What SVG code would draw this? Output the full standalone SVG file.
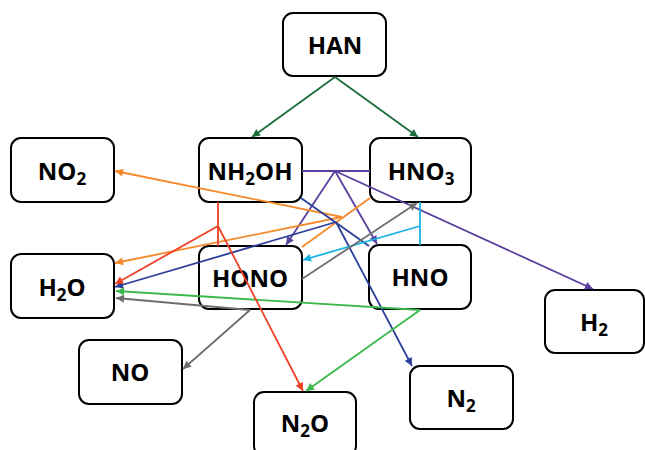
<svg xmlns="http://www.w3.org/2000/svg" width="645" height="450" viewBox="0 0 645 450">
  <style>
    .box { fill: #ffffff; stroke: #000000; stroke-width: 2; }
    .lbl { font-family: "Open Sans", "Liberation Sans", sans-serif; font-weight: 700; font-size: 24px; fill: #000000; text-anchor: middle; }
    .sub { font-size: 17px; }
    .ln { fill: none; stroke-width: 1.8; stroke-linecap: butt; }
    .dkgreen { stroke: #1b6e3c; }
    .purple { stroke: #5b3f9e; }
    .orange { stroke: #f58a2c; }
    .blue { stroke: #2c3f9b; }
    .cyan { stroke: #18b2e3; }
    .gray { stroke: #6e6e6e; }
    .green { stroke: #3db84c; }
    .red { stroke: #ee4125; }
  </style>
  <defs>
    <marker id="ah-dkgreen" viewBox="0 0 10 10" refX="10" refY="5" markerWidth="9" markerHeight="8" markerUnits="userSpaceOnUse" orient="auto"><path d="M0,0 L10,5 L0,10 z" fill="#1b6e3c"/></marker>
    <marker id="ah-purple" viewBox="0 0 10 10" refX="10" refY="5" markerWidth="9" markerHeight="8" markerUnits="userSpaceOnUse" orient="auto"><path d="M0,0 L10,5 L0,10 z" fill="#5b3f9e"/></marker>
    <marker id="ah-orange" viewBox="0 0 10 10" refX="10" refY="5" markerWidth="9" markerHeight="8" markerUnits="userSpaceOnUse" orient="auto"><path d="M0,0 L10,5 L0,10 z" fill="#f58a2c"/></marker>
    <marker id="ah-blue" viewBox="0 0 10 10" refX="10" refY="5" markerWidth="9" markerHeight="8" markerUnits="userSpaceOnUse" orient="auto"><path d="M0,0 L10,5 L0,10 z" fill="#2c3f9b"/></marker>
    <marker id="ah-cyan" viewBox="0 0 10 10" refX="10" refY="5" markerWidth="9" markerHeight="8" markerUnits="userSpaceOnUse" orient="auto"><path d="M0,0 L10,5 L0,10 z" fill="#18b2e3"/></marker>
    <marker id="ah-gray" viewBox="0 0 10 10" refX="10" refY="5" markerWidth="9" markerHeight="8" markerUnits="userSpaceOnUse" orient="auto"><path d="M0,0 L10,5 L0,10 z" fill="#6e6e6e"/></marker>
    <marker id="ah-green" viewBox="0 0 10 10" refX="10" refY="5" markerWidth="9" markerHeight="8" markerUnits="userSpaceOnUse" orient="auto"><path d="M0,0 L10,5 L0,10 z" fill="#3db84c"/></marker>
    <marker id="ah-red" viewBox="0 0 10 10" refX="10" refY="5" markerWidth="9" markerHeight="8" markerUnits="userSpaceOnUse" orient="auto"><path d="M0,0 L10,5 L0,10 z" fill="#ee4125"/></marker>
  </defs>

  <rect width="645" height="450" fill="#ffffff"/>

  <!-- species nodes -->
  <g id="node-HAN">
    <rect class="box" x="283" y="13" width="103" height="63" rx="10"/>
    <text class="lbl" x="335" y="54">HAN</text>
  </g>
  <g id="node-NO2">
    <rect class="box" x="11" y="138" width="103" height="64" rx="10"/>
    <text class="lbl" x="62" y="180">NO<tspan class="sub" dy="5">2</tspan></text>
  </g>
  <g id="node-NH2OH">
    <rect class="box" x="199" y="138" width="103" height="64" rx="10"/>
    <text class="lbl" x="250" y="180">NH<tspan class="sub" dy="5">2</tspan><tspan dy="-5">OH</tspan></text>
  </g>
  <g id="node-HNO3">
    <rect class="box" x="370" y="138" width="101" height="64" rx="10"/>
    <text class="lbl" x="421" y="180">HNO<tspan class="sub" dy="5">3</tspan></text>
  </g>
  <g id="node-H2O">
    <rect class="box" x="11" y="254" width="103" height="64" rx="10"/>
    <text class="lbl" x="62" y="296">H<tspan class="sub" dy="5">2</tspan><tspan dy="-5">O</tspan></text>
  </g>
  <g id="node-HONO">
    <rect class="box" x="199" y="246" width="103" height="63" rx="10"/>
    <text class="lbl" x="250" y="287">HONO</text>
  </g>
  <g id="node-HNO">
    <rect class="box" x="369" y="245" width="102" height="64" rx="10"/>
    <text class="lbl" x="420" y="286">HNO</text>
  </g>
  <g id="node-H2">
    <rect class="box" x="545" y="290" width="99" height="63" rx="10"/>
    <text class="lbl" x="594" y="331">H<tspan class="sub" dy="5">2</tspan></text>
  </g>
  <g id="node-NO">
    <rect class="box" x="79" y="340" width="103" height="64" rx="10"/>
    <text class="lbl" x="130" y="381">NO</text>
  </g>
  <g id="node-N2">
    <rect class="box" x="410" y="366" width="103" height="63" rx="10"/>
    <text class="lbl" x="461" y="407">N<tspan class="sub" dy="5">2</tspan></text>
  </g>
  <g id="node-N2O">
    <rect class="box" x="254" y="392" width="102" height="64" rx="10"/>
    <text class="lbl" x="305" y="432">N<tspan class="sub" dy="5">2</tspan><tspan dy="-5">O</tspan></text>
  </g>

  <!-- reaction connectors -->
  <g id="connectors">
    <!-- HAN decomposition -->
    <line class="ln dkgreen" x1="335" y1="77" x2="252" y2="137" marker-end="url(#ah-dkgreen)"/>
    <line class="ln dkgreen" x1="335" y1="77" x2="418" y2="137" marker-end="url(#ah-dkgreen)"/>

    <!-- NH2OH + HNO3 -->
    <line class="ln purple" x1="302" y1="171" x2="370" y2="171"/>
    <line class="ln purple" x1="335" y1="171" x2="286" y2="245" marker-end="url(#ah-purple)"/>
    <line class="ln purple" x1="335" y1="171" x2="377" y2="244" marker-end="url(#ah-purple)"/>
    <line class="ln purple" x1="335" y1="171" x2="593" y2="289" marker-end="url(#ah-purple)"/>

    <!-- HNO3 + HONO -->
    <line class="ln orange" x1="302" y1="247" x2="370" y2="198"/>
    <line class="ln orange" x1="342" y1="217" x2="115" y2="171" marker-end="url(#ah-orange)"/>
    <line class="ln orange" x1="342" y1="217" x2="115" y2="263" marker-end="url(#ah-orange)"/>

    <!-- NH2OH + HNO -->
    <line class="ln blue" x1="301" y1="198" x2="369" y2="246"/>
    <line class="ln blue" x1="336" y1="222" x2="115" y2="287" marker-end="url(#ah-blue)"/>
    <line class="ln blue" x1="336" y1="222" x2="412" y2="366" marker-end="url(#ah-blue)"/>

    <!-- HNO3 + HNO -->
    <line class="ln cyan" x1="420" y1="202" x2="420" y2="245"/>
    <line class="ln cyan" x1="420" y1="226" x2="303" y2="260" marker-end="url(#ah-cyan)"/>

    <!-- HONO disproportionation -->
    <line class="ln gray" x1="302" y1="279" x2="417" y2="203" marker-end="url(#ah-gray)"/>
    <line class="ln gray" x1="250" y1="310" x2="183" y2="369" marker-end="url(#ah-gray)"/>
    <line class="ln gray" x1="250" y1="310" x2="116" y2="298" marker-end="url(#ah-gray)"/>

    <!-- HNO dimerisation -->
    <line class="ln green" x1="420" y1="310" x2="116" y2="291" marker-end="url(#ah-green)"/>
    <line class="ln green" x1="420" y1="310" x2="306" y2="391" marker-end="url(#ah-green)"/>

    <!-- NH2OH + HONO -->
    <line class="ln red" x1="218" y1="202" x2="218" y2="246"/>
    <line class="ln red" x1="218" y1="226" x2="115" y2="284" marker-end="url(#ah-red)"/>
    <line class="ln red" x1="218" y1="226" x2="303" y2="391" marker-end="url(#ah-red)"/>
  </g>
</svg>
